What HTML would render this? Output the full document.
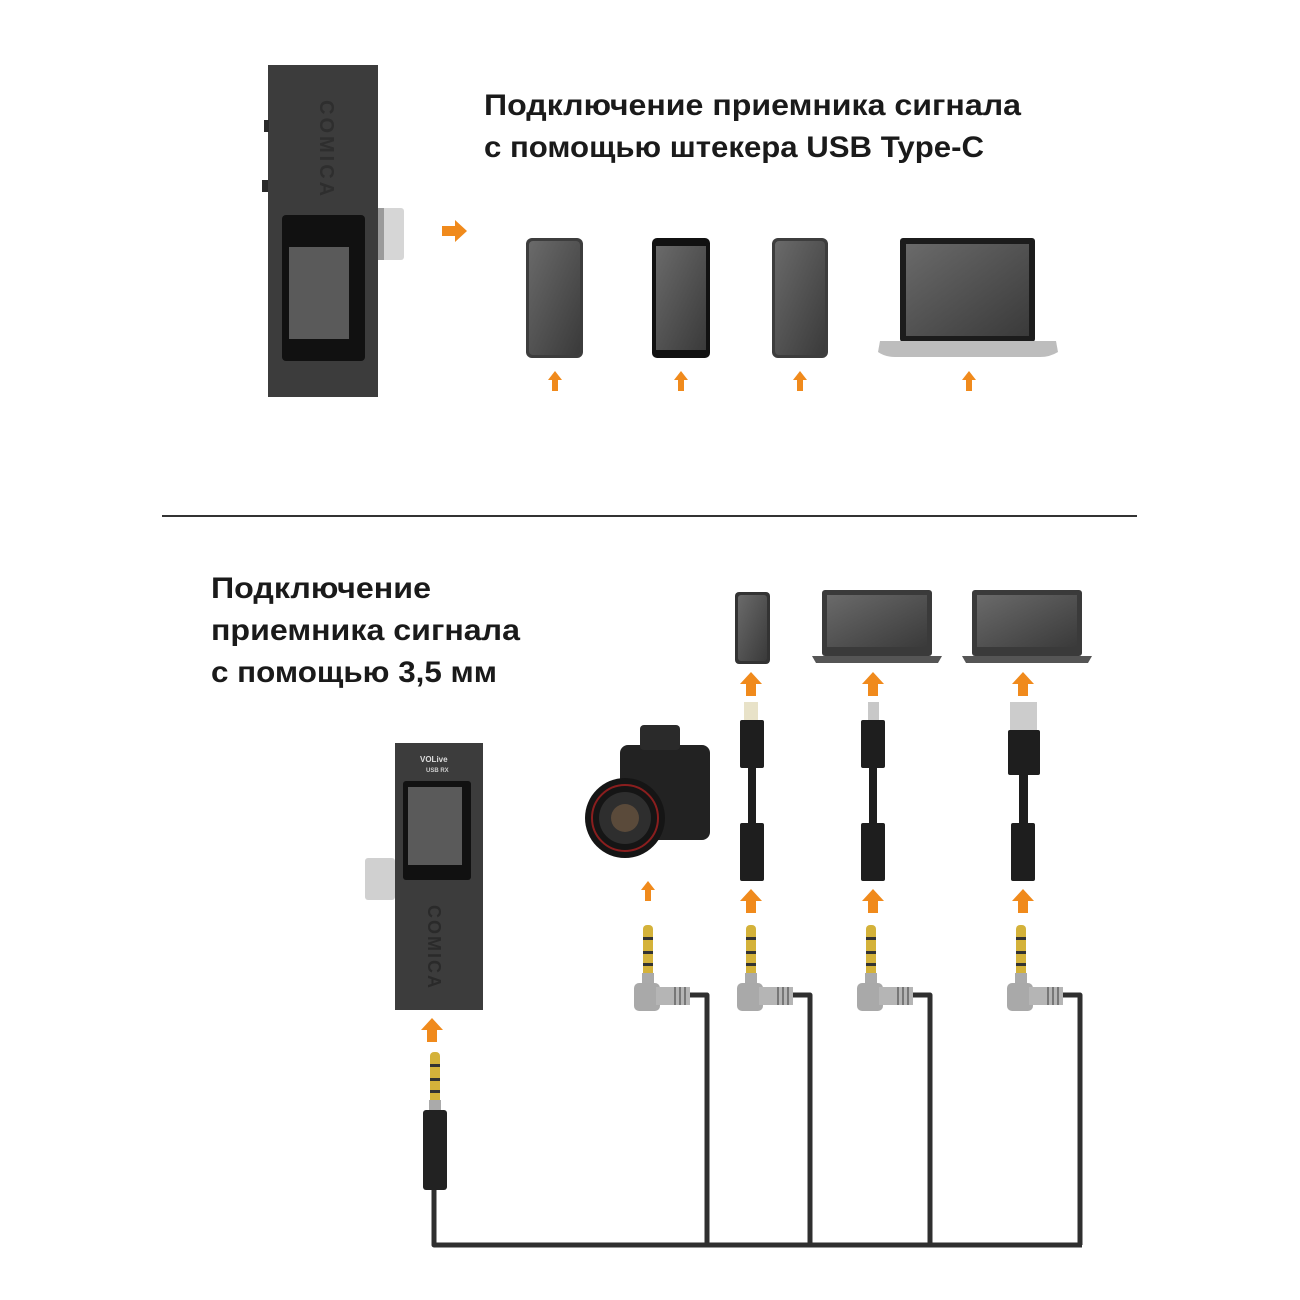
<!DOCTYPE html>
<html><head><meta charset="utf-8"><style>
html,body{margin:0;padding:0;background:#fff}
svg{display:block}
text{font-family:"Liberation Sans","DejaVu Sans",sans-serif;font-weight:bold;fill:#1a1a1a}
</style></head><body>
<svg width="1300" height="1300" viewBox="0 0 1300 1300" xmlns="http://www.w3.org/2000/svg">
<defs>
<linearGradient id="scr" x1="0" y1="0" x2="1" y2="1"><stop offset="0" stop-color="#6a6a6a"/><stop offset="1" stop-color="#3a3a3a"/></linearGradient>
<g id="bigArrow"><path d="M-11,0 L0,-12 L11,0 L5,0 L5,12 L-5,12 L-5,0 Z" fill="#f08a1c"/></g>
<g id="smArrow"><path d="M-7,0 L0,-9 L7,0 L3,0 L3,11 L-3,11 L-3,0 Z" fill="#f08a1c"/></g>
<g id="jack">
  <rect x="-5" y="0" width="10" height="58" rx="4" fill="#d4b23a"/>
  <rect x="-5" y="12" width="10" height="3" fill="#333"/>
  <rect x="-5" y="26" width="10" height="3" fill="#333"/>
  <rect x="-5" y="38" width="10" height="3" fill="#333"/>
  <rect x="-6" y="48" width="12" height="12" fill="#aaa"/>
</g>
<g id="rplug">
  <use href="#jack" x="0" y="0"/>
  <rect x="-14" y="58" width="26" height="28" rx="5" fill="#a9a9a9"/>
  <rect x="8" y="62" width="34" height="18" fill="#b5b5b5"/>
  <rect x="26" y="62" width="2" height="18" fill="#777"/><rect x="31" y="62" width="2" height="18" fill="#777"/><rect x="36" y="62" width="2" height="18" fill="#777"/>
</g>
<g id="laptop2">
  <rect x="0" y="0" width="110" height="66" rx="3" fill="#3a3a3a"/>
  <rect x="5" y="5" width="100" height="52" fill="url(#scr)"/>
  <path d="M-10,66 L120,66 L116,73 L-6,73 Z" fill="#555"/>
</g>
</defs>

<!-- TOP -->
<rect x="268" y="65" width="110" height="332" fill="#3c3c3c"/>
<rect x="264" y="120" width="5" height="12" fill="#2a2a2a"/>
<rect x="262" y="180" width="6" height="12" fill="#2a2a2a"/>
<text x="0" y="0" transform="translate(320,100) rotate(90)" font-size="20" style="fill:#2e2e2e" letter-spacing="3">COMICA</text>
<rect x="282" y="215" width="83" height="146" rx="4" fill="#111"/>
<rect x="289" y="247" width="60" height="92" fill="#5a5a5a"/>
<rect x="378" y="208" width="26" height="52" rx="3" fill="#d6d6d6"/>
<rect x="378" y="208" width="6" height="52" fill="#9a9a9a"/>
<path d="M442,226 L455,226 L455,220 L467,231 L455,242 L455,236 L442,236 Z" fill="#f08a1c"/>

<text x="484" y="115" font-size="30" textLength="537" lengthAdjust="spacingAndGlyphs">Подключение приемника сигнала</text>
<text x="484" y="157" font-size="30" textLength="500" lengthAdjust="spacingAndGlyphs">с помощью штекера USB Type-C</text>

<rect x="526" y="238" width="57" height="120" rx="6" fill="#3d3d3d"/>
<rect x="529" y="241" width="51" height="114" rx="4" fill="url(#scr)"/>
<rect x="652" y="238" width="58" height="120" rx="5" fill="#111"/>
<rect x="656" y="246" width="50" height="104" fill="url(#scr)"/>
<rect x="772" y="238" width="56" height="120" rx="6" fill="#3d3d3d"/>
<rect x="775" y="241" width="50" height="114" rx="4" fill="url(#scr)"/>
<rect x="900" y="238" width="135" height="104" rx="3" fill="#1c1c1c"/>
<rect x="906" y="244" width="123" height="92" fill="url(#scr)"/>
<path d="M880,341 L1056,341 L1058,352 Q1050,357 1040,357 L895,357 Q885,357 878,352 Z" fill="#bdbdbd"/>
<use href="#smArrow" x="555" y="380"/>
<use href="#smArrow" x="681" y="380"/>
<use href="#smArrow" x="800" y="380"/>
<use href="#smArrow" x="969" y="380"/>

<rect x="162" y="515" width="975" height="2" fill="#333"/>

<!-- BOTTOM -->
<text x="211" y="598" font-size="30" textLength="220" lengthAdjust="spacingAndGlyphs">Подключение</text>
<text x="211" y="640" font-size="30" textLength="309" lengthAdjust="spacingAndGlyphs">приемника сигнала</text>
<text x="211" y="682" font-size="30" textLength="286" lengthAdjust="spacingAndGlyphs">с помощью 3,5 мм</text>

<!-- cables -->
<g fill="none" stroke="#2f2f2f" stroke-width="5" stroke-linejoin="round">
<path d="M434,1190 L434,1245 L1082,1245"/>
<path d="M690,995 L707,995 L707,1245"/>
<path d="M793,995 L810,995 L810,1245"/>
<path d="M913,995 L930,995 L930,1245"/>
<path d="M1063,995 L1080,995 L1080,1245"/>
</g>

<rect x="395" y="743" width="88" height="267" fill="#3c3c3c"/>
<text x="420" y="762" font-size="8" style="fill:#ddd">VOLive</text>
<text x="426" y="772" font-size="6" style="fill:#ccc">USB RX</text>
<rect x="403" y="781" width="68" height="99" rx="3" fill="#111"/>
<rect x="408" y="787" width="54" height="78" fill="#5a5a5a"/>
<rect x="365" y="858" width="30" height="42" rx="3" fill="#d0d0d0"/>
<text x="0" y="0" transform="translate(428,905) rotate(90)" font-size="18" style="fill:#2a2a2a" letter-spacing="2">COMICA</text>
<use href="#bigArrow" x="432" y="1030"/>
<use href="#jack" x="435" y="1052"/>
<rect x="423" y="1110" width="24" height="80" rx="3" fill="#222"/>

<!-- camera -->
<rect x="620" y="745" width="90" height="95" rx="8" fill="#222"/>
<rect x="640" y="725" width="40" height="25" rx="4" fill="#2a2a2a"/>
<circle cx="625" cy="818" r="40" fill="#151515"/>
<circle cx="625" cy="818" r="26" fill="#2e2e2e"/>
<circle cx="625" cy="818" r="14" fill="#5a4a3a"/>
<circle cx="625" cy="818" r="33" fill="none" stroke="#8a1e1e" stroke-width="2"/>
<use href="#smArrow" x="648" y="890"/>

<!-- top devices -->
<rect x="735" y="592" width="35" height="72" rx="4" fill="#333"/>
<rect x="738" y="595" width="29" height="66" rx="3" fill="url(#scr)"/>
<use href="#laptop2" x="822" y="590"/>
<use href="#laptop2" x="972" y="590"/>
<use href="#bigArrow" x="751" y="684"/>
<use href="#bigArrow" x="873" y="684"/>
<use href="#bigArrow" x="1023" y="684"/>

<!-- adapters -->
<rect x="744" y="702" width="14" height="18" fill="#e8e2c8"/>
<rect x="868" y="702" width="11" height="18" fill="#c8c8c8"/>
<rect x="1010" y="702" width="27" height="28" fill="#ccc"/>
<g fill="#1e1e1e">
<rect x="740" y="720" width="24" height="48" rx="2"/><rect x="748" y="768" width="8" height="55"/><rect x="740" y="823" width="24" height="58" rx="2"/>
<rect x="861" y="720" width="24" height="48" rx="2"/><rect x="869" y="768" width="8" height="55"/><rect x="861" y="823" width="24" height="58" rx="2"/>
<rect x="1008" y="730" width="32" height="45" rx="2"/><rect x="1019" y="775" width="9" height="48"/><rect x="1011" y="823" width="24" height="58" rx="2"/>
</g>
<use href="#bigArrow" x="751" y="901"/>
<use href="#bigArrow" x="873" y="901"/>
<use href="#bigArrow" x="1023" y="901"/>

<use href="#rplug" x="648" y="925"/>
<use href="#rplug" x="751" y="925"/>
<use href="#rplug" x="871" y="925"/>
<use href="#rplug" x="1021" y="925"/>
</svg>
</body></html>
